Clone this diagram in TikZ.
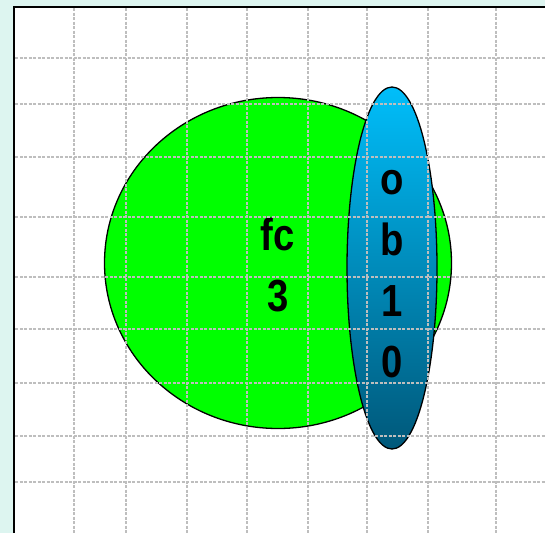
\documentclass[tikz,border=0pt]{standalone}
\usepackage{fontspec}
\setmainfont{Liberation Sans}[FakeStretch=0.85]
\usetikzlibrary{shapes.geometric}
\definecolor{pagecyan}{RGB}{221,245,240}
\definecolor{gridgray}{RGB}{190,190,190}
\definecolor{fcgreen}{RGB}{0,255,0}
\definecolor{obtop}{RGB}{0,190,250}
\definecolor{obbottom}{RGB}{0,88,122}
\begin{document}
\begin{tikzpicture}[x=1pt, y=-1pt,
      blob/.style={ellipse, draw=black, line width=1.3pt, inner sep=0pt},
      tag/.style={align=center, inner sep=0pt, font=\fontsize{45}{61}\selectfont\bfseries},
      gridline/.style={gridgray, line width=1.9pt, dash pattern=on 3pt off 1.5pt}
  ]

  % Page
  \fill[pagecyan] (0,0) rectangle (545,533);
  \useasboundingbox (0,0) rectangle (545,533);
  \fill[white] (14,7) rectangle (545,533);
  \coordinate (corner) at (14,7);
  \draw[line width=2pt] (545,7) -- (corner) -- (14,533);

  % Nodes
  \node[blob, fill=fcgreen, minimum width=347pt, minimum height=331pt] (fc) at (278,263) {};
  \node[blob, top color=obtop, bottom color=obbottom, minimum width=90pt, minimum height=362pt] (ob) at (392,268) {};
  \node[tag] (fctext) at ([yshift=-2pt]fc.center) {fc\\3};
  \node[tag] (obtext) at ([yshift=-6pt]ob.center) {o\\b\\1\\0};

  % Grid
  \foreach \gx in {74,126,187,247,308,367,428,496}
    \draw[gridline] (\gx,8) -- (\gx,533);
  \foreach \gy in {58,104,157,217,277,329,383,436,482}
    \draw[gridline] (15,\gy) -- (545,\gy);

\end{tikzpicture}
\end{document}
